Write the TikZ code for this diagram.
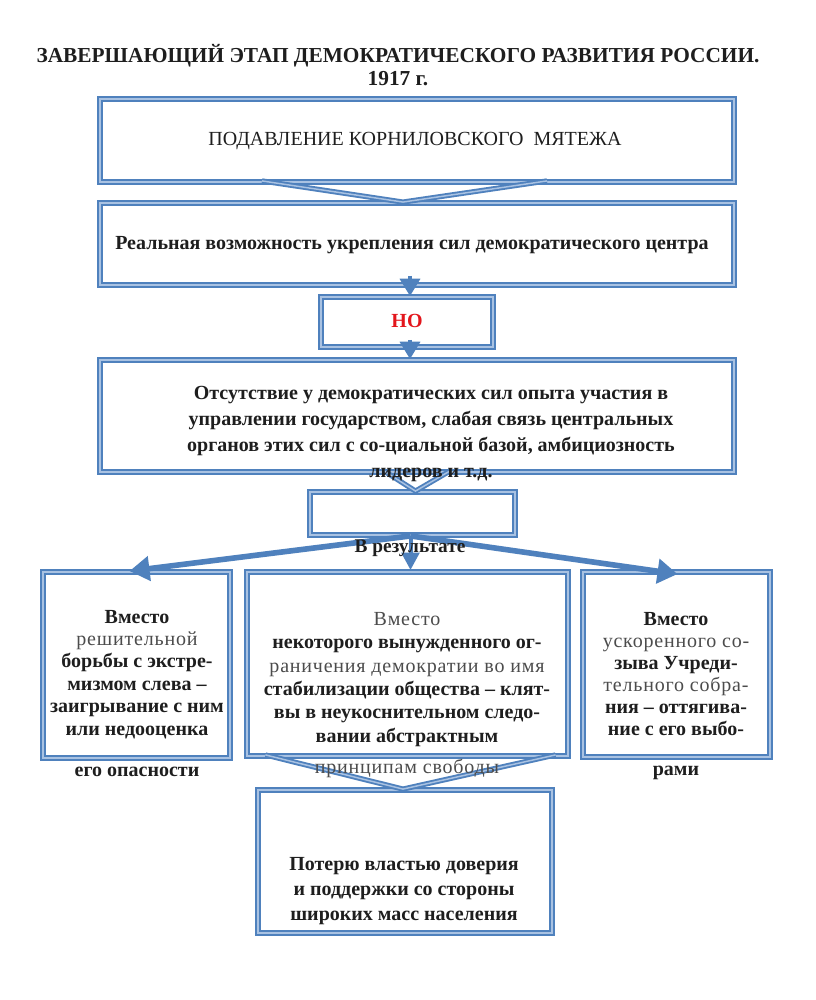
\documentclass[tikz,border=0pt]{standalone}
\usepackage{fontspec}
\setmainfont{Liberation Serif}
\newfontfamily\ltfont[LetterSpace=4]{Liberation Serif}
\usetikzlibrary{arrows.meta,fit,calc}
\definecolor{bblue}{HTML}{4F81BD}
\definecolor{lblue}{HTML}{A9C2E2}
\definecolor{nored}{HTML}{E3161C}
\definecolor{txt}{HTML}{1E1E1E}
\newcommand\lt[1]{{\ltfont\mdseries\color{black!70}#1}}
\begin{document}
\begin{tikzpicture}[x=0.75pt,y=-0.75pt,
  boxs/.style={draw=bblue, double=lblue, double distance=1.1pt, line width=1.4pt, inner sep=0pt},
  chev/.style={draw=bblue, double=lblue, double distance=1.1pt, line width=1.4pt, line join=miter},
  sarrow/.style={draw=bblue, line width=2.6pt, -{Triangle[width=15pt,length=13pt]}},
  farrow/.style={draw=bblue, line width=4.2pt, -{Triangle[width=18pt,length=15pt]}},
  marrow/.style={draw=bblue, line width=3pt, -{Triangle[width=13pt,length=13pt]}},
  body/.style={text=txt, align=center, anchor=base, inner sep=0pt},
]
\useasboundingbox (0,0) rectangle (816,1000);
\fill[white] (0,0) rectangle (816,1000);

% boxes
\node[boxs, fit={(100,99) (734,182)}] (b1) {};
\node[boxs, fit={(100,203) (734,285)}] (b2) {};
\node[boxs, fit={(321,297) (493,347)}] (no) {};
\node[boxs, fit={(100,360) (734,472)}] (b3) {};
\node[boxs, fit={(310,492) (515,535)}] (e) {};
\node[boxs, fit={(43,572) (230,758)}] (l) {};
\node[boxs, fit={(247,572) (568,756)}] (m) {};
\node[boxs, fit={(583,572) (770,757)}] (r) {};
\node[boxs, fit={(258,790) (552,933)}] (f) {};

% chevrons
\draw[chev] ($(b1.south)+(-155,-2)$) -- ($(b2.north)+(-14,0)$) -- ($(b1.south)+(130,-2)$);
\draw[chev] ($(b3.south)+(-33,-2)$) -- ($(e.north)+(3,0)$) -- ($(b3.south)+(33,-2)$);
\draw[chev] ($(m.south)+(-142,-2)$) -- ($(f.north)+(-2,0)$) -- ($(m.south)+(148,-2)$);

% small arrows
\coordinate (a1) at ($(b2.south)+(-7,-10)$);
\draw[sarrow] (a1) -- (a1 |- no.north);
\coordinate (a2) at ($(no.south)+(3,-8)$);
\draw[sarrow] (a2) -- (a2 |- b3.north);

% fan arrows
\coordinate (eo) at ($(e.south)+(-2,0)$);
\draw[farrow] (eo) -- ($(l.north)+(-7,0)$);
\draw[farrow] (eo) -- ($(r.north)+(1,3)$);
\draw[marrow] (eo) -- ($(m.north)+(3,-1)$);

% texts (anchor base = last line baseline)
\node[body, font=\fontsize{16}{17.25}\selectfont\bfseries] (title) at (398,85)
  {ЗАВЕРШАЮЩИЙ ЭТАП ДЕМОКРАТИЧЕСКОГО РАЗВИТИЯ РОССИИ.\\1917 г.};
\node[body, font=\fontsize{15}{18}\selectfont] (t1) at (415,145)
  {ПОДАВЛЕНИЕ КОРНИЛОВСКОГО\ \ МЯТЕЖА};
\node[body, font=\fontsize{15}{18}\selectfont\bfseries] (t2) at (412,249)
  {Реальная возможность укрепления сил демократического центра};
\node[body, font=\fontsize{15}{18}\selectfont\bfseries, text=nored] (tno) at (407,327) {НО};
\node[body, font=\fontsize{15}{19.3}\selectfont\bfseries] (t3) at (431,477)
  {Отсутствие у демократических сил опыта участия в\\
   управлении государством, слабая связь центральных\\
   органов этих сил с со-циальной базой, амбициозность\\
   лидеров и т.д.};
\node[body, font=\fontsize{14.5}{17}\selectfont\bfseries] (tres) at (410,552) {В результате};
\node[body, font=\fontsize{15}{16.8}\selectfont\bfseries] (tl) at (137,776)
  {Вместо\\ \lt{решительной}\\ борьбы с экстре-\\ мизмом слева –\\ заигрывание с ним\\ или недооценка\\[13.9pt] его опасности};
\node[body, font=\fontsize{15}{17.5}\selectfont\bfseries] (tm) at (407,773)
  {\lt{Вместо}\\ некоторого вынужденного ог-\\ \lt{раничения демократии во имя}\\ стабилизации общества – клят-\\ вы в неукоснительном следо-\\ вании абстрактным\\[5.7pt] \lt{принципам свободы}};
\node[body, font=\fontsize{15}{16.5}\selectfont\bfseries] (tr) at (676,775)
  {Вместо\\ \lt{ускоренного со-}\\ зыва Учреди-\\ \lt{тельного собра-}\\ ния – оттягива-\\ ние с его выбо-\\[13.5pt] рами};
\node[body, font=\fontsize{15}{18.75}\selectfont\bfseries] (tf) at (404,920)
  {Потерю властью доверия\\ и поддержки со стороны\\ широких масс населения};
\end{tikzpicture}
\end{document}
